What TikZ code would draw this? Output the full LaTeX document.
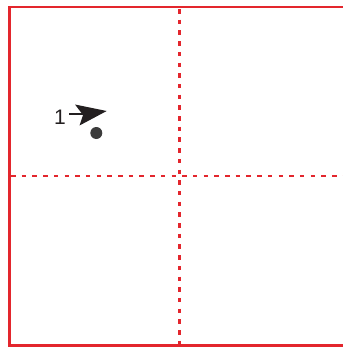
\documentclass[tikz,border=0pt]{standalone}
\usepackage{fontspec}
\setmainfont{Liberation Sans}
\definecolor{frame}{HTML}{E3262D}
\definecolor{ink}{HTML}{231F20}
\definecolor{dotc}{HTML}{3C3C3C}
\tikzset{
  framestyle/.style={draw=frame, line width=2.8pt},
  gridline/.style={draw=frame, line width=2.4pt, dash pattern=on 4.5pt off 6.2pt},
}
\begin{document}
\begin{tikzpicture}[x=1pt,y=-1pt]
\useasboundingbox (0,0) rectangle (343,349);
\clip (0,0) rectangle (343,349);
\draw[gridline] (179.5,9) -- (179.5,344);
\draw[gridline] (11,176) -- (343,176);
\draw[framestyle] (360,7) -- (9.5,7) -- (9.5,345.5) -- (360,345.5);
\node[font=\fontsize{21}{21}\selectfont, text=ink, inner sep=0pt, anchor=east] (one) at (66,117.5) {1};
\coordinate (tail) at (69,114.3);
\coordinate (notch) at (83,114.3);
\draw[ink, line width=2pt] (tail) -- (notch);
\fill[ink] (106.7,111) -- (75,104.5) -- (83,115) -- (79.5,125.5) -- cycle;
\fill[dotc] (96.3,133) circle (6);
\end{tikzpicture}
\end{document}
